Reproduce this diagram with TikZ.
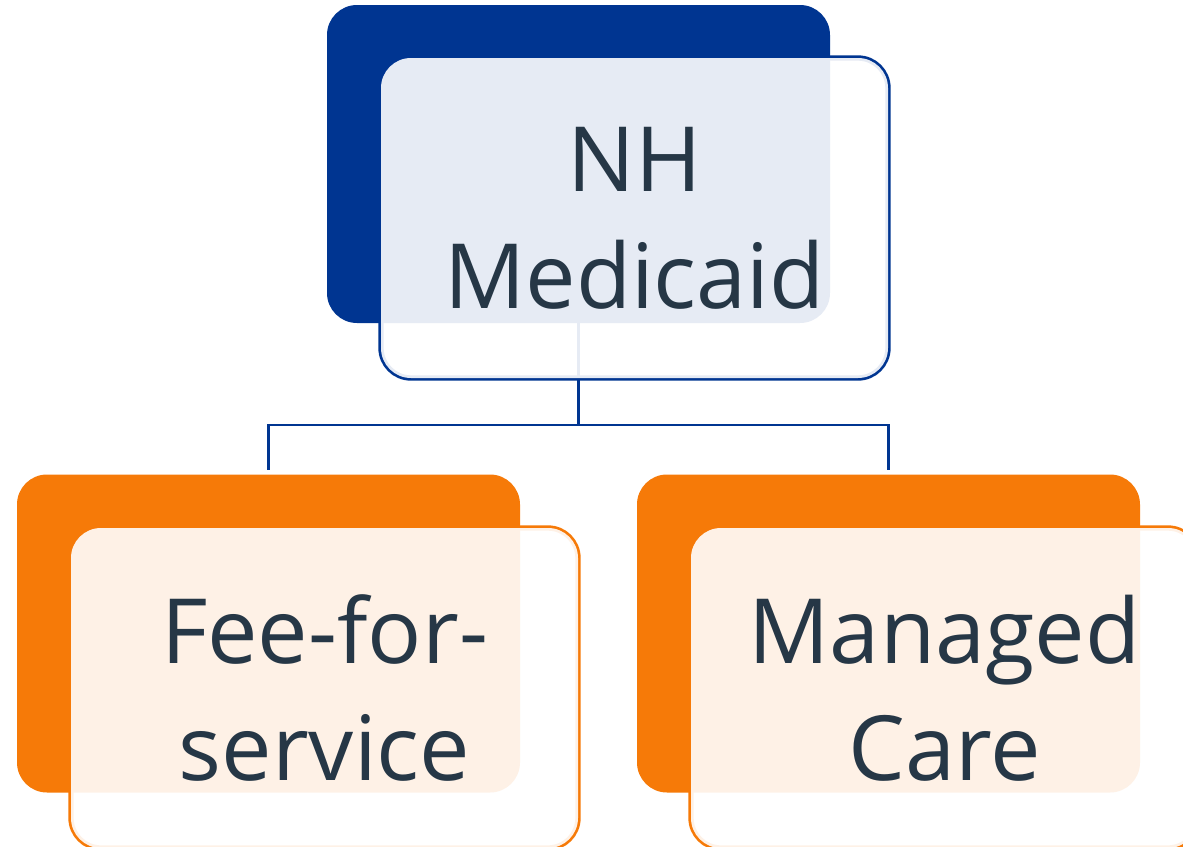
\documentclass[tikz,border=0pt]{standalone}
\usepackage{fontspec}
\setmainfont{Open Sans}
\usetikzlibrary{backgrounds}
\definecolor{nhblue}{HTML}{003591}
\definecolor{nhorange}{HTML}{F67A08}
\definecolor{nhtext}{HTML}{263746}
\begin{document}
\begin{tikzpicture}[x=0.75pt,y=-0.75pt,line join=round,
  back/.style={rectangle,rounded corners=22.5pt,minimum width=377.25pt,minimum height=238.5pt,inner sep=0pt,outer sep=0pt},
  frame/.style={rectangle,rounded corners=22.5pt,minimum width=380.25pt,minimum height=240pt,inner sep=0pt,outer sep=0pt,line width=4pt},
  veil/.style={frame,draw=none,fill=white,fill opacity=0.9,text opacity=1,text=nhtext,align=center,font=\fontsize{67.5}{88}\selectfont},
  link/.style={draw=nhblue,line width=2.2pt}]
\useasboundingbox (0,0) rectangle (1183,847);
\clip (0,0) rectangle (1183,847);
% top box
\node[frame,draw=nhblue] (nhf) at (634.5,218) {};
\node[back,fill=nhblue] (nh) at (578.5,164) {};
\node[veil] (nht) at (nhf.center) {NH\\Medicaid};
% left box
\node[frame,draw=nhorange] (ffsf) at (324.5,688) {};
\node[back,fill=nhorange] (ffs) at (268.5,633.5) {};
\node[veil] (ffst) at (ffsf.center) {Fee-for-\\service};
% right box
\node[frame,draw=nhorange] (mcf) at (944.5,688) {};
\node[back,fill=nhorange] (mc) at (888.5,633.5) {};
\node[veil] (mct) at (mcf.center) {Managed\\Care};
% connectors
\begin{pgfonlayer}{background}
\path (nh.south) ++(0,102) coordinate (split);
\draw[link] (nh.south) -- (split);
\draw[link] ([yshift=3.75pt]ffs.north) |- (split) -| ([yshift=3.75pt]mc.north);
\end{pgfonlayer}
\end{tikzpicture}
\end{document}
